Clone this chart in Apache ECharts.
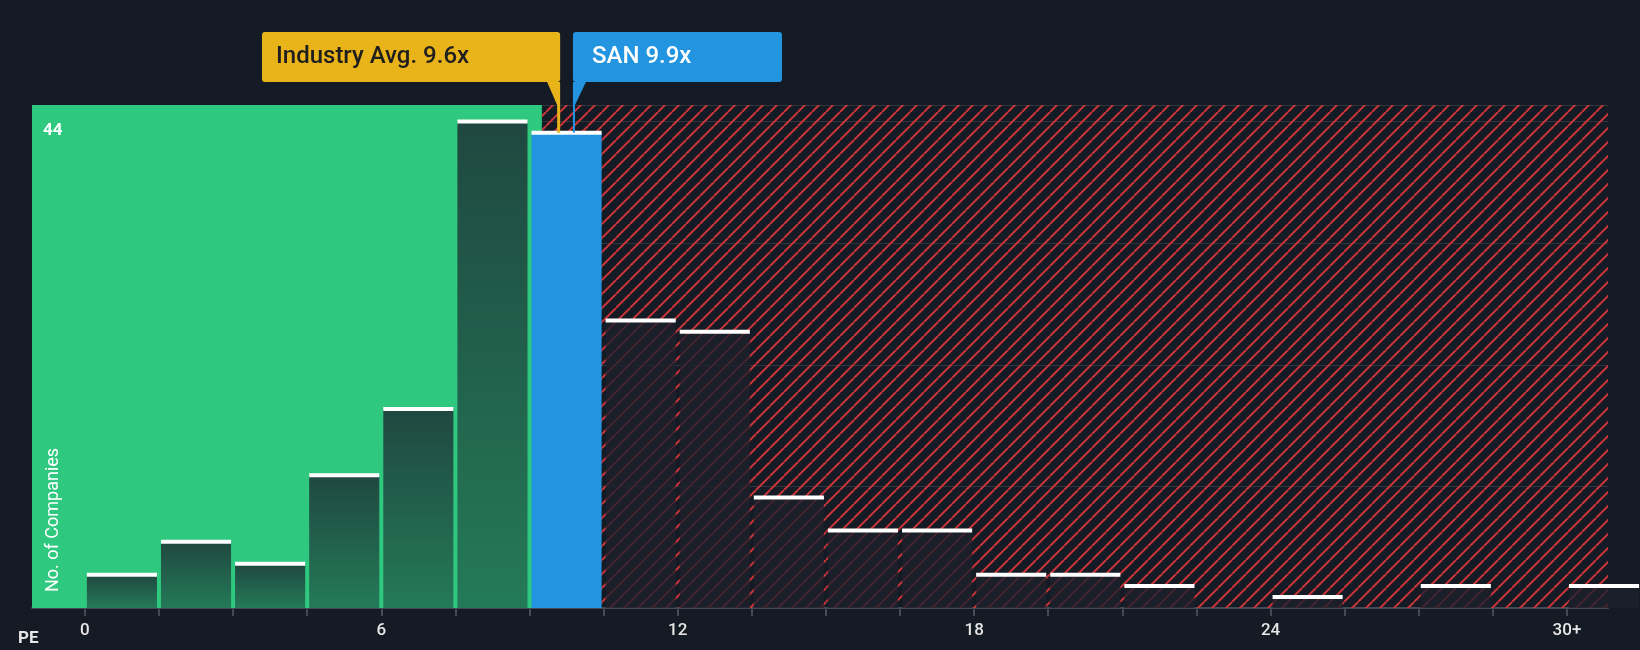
<!DOCTYPE html>
<html><head><meta charset="utf-8">
<script src="https://cdn.jsdelivr.net/npm/echarts@6/dist/echarts.min.js"></script>
<style>html,body{margin:0;background:#151b24}#c{width:1640px;height:650px}</style>
</head><body><div id="c"></div>
<script>
// histogram bins (PE ranges of 1.5) and company counts
const binStart = [0, 1.5, 3, 4.5, 6, 7.5, 9, 10.5, 12, 13.5, 15, 16.5, 18, 19.5, 21, 22.5, 24, 25.5, 27, 28.5, 30];
const counts   = [3, 6, 4, 12, 18, 44, 43, 26, 25, 10, 7, 7, 3, 3, 2, 0, 1, 0, 2, 0, 2];
const binWidth = 1.5;
const sanBin = 6;
const xTicks = [0, 6, 12, 18, 24, 30];
const industryAvg = 9.6, sanPE = 9.9, fairEnd = 9.25;
const xMin = -1.07, xMax = 30.83, yMax = 45.5;

const chart = echarts.init(document.getElementById('c'));

// red diagonal hatch
const pat = document.createElement('canvas');
pat.width = 14; pat.height = 14;
const pc = pat.getContext('2d');
pc.strokeStyle = '#c7343a'; pc.lineWidth = 2;
for (const o of [-14, 0, 14]) { pc.beginPath(); pc.moveTo(o, 14); pc.lineTo(o + 14, 0); pc.stroke(); }

const data = binStart.map((s, i) => [s, s + binWidth, counts[i], i]);

chart.setOption({
  backgroundColor: '#151b24',
  animation: false,
  grid: {left: 32, right: 32, top: 105, bottom: 42},
  xAxis: {
    type: 'value', min: xMin, max: xMax,
    splitLine: {show: false},
    axisLine: {lineStyle: {color: '#444a55', width: 2}},
    axisTick: {show: true, length: 8, lineStyle: {color: '#444a55', width: 2},
      customValues: binStart.concat([31.5])},
    axisLabel: {customValues: xTicks, color: '#e6e6e6', fontSize: 17, fontWeight: 500, fontFamily: 'Roboto', margin: 14,
      formatter: v => v === 30 ? '30+' : String(v)}
  },
  yAxis: {
    type: 'value', min: 0, max: yMax, interval: 11,
    axisLabel: {show: false}, axisLine: {show: false}, axisTick: {show: false},
    splitLine: {lineStyle: {color: 'rgba(255,255,255,0.12)'}}
  },
  series: [{
    type: 'custom',
    data: data,
    encode: {x: [0, 1], y: 2},
    markArea: {
      silent: true,
      data: [
        [{xAxis: xMin, yAxis: 0, itemStyle: {color: '#2ec97f'}}, {xAxis: fairEnd, yAxis: yMax}],
        [{xAxis: fairEnd, yAxis: 0, itemStyle: {color: {image: pat, repeat: 'repeat'}}}, {xAxis: xMax, yAxis: yMax}]
      ]
    },
    renderItem: (params, api) => {
      const i = api.value(3);
      const v = api.value(2);
      if (v <= 0) return null;
      const p0 = api.coord([api.value(0), v]);
      const p1 = api.coord([api.value(1), 0]);
      const x = p0[0] + 2, w = p1[0] - p0[0] - 4, y = p0[1], h = p1[1] - p0[1];
      let fill;
      if (i === sanBin) fill = '#2394df';
      else if (api.value(0) < fairEnd) fill = new echarts.graphic.LinearGradient(0, 0, 0, 1,
        [{offset: 0, color: '#1f4840'}, {offset: 1, color: '#247a58'}]);
      else fill = 'rgba(28,32,44,0.78)';
      return {type: 'group', children: [
        {type: 'rect', shape: {x, y, width: w, height: h}, style: {fill}},
        {type: 'rect', shape: {x, y: y - 2, width: w, height: 4}, style: {fill: '#ffffff'}}
      ]};
    }
  }]
});

const px = v => chart.convertToPixel({gridIndex: 0}, v);
const topY = px([0, yMax])[1];
const avgX = px([industryAvg, 0])[0];
const sanX = px([sanPE, 0])[0];
const sanTop = px([0, counts[sanBin]])[1];
const boxTop = 32, boxBot = 82;

chart.setOption({graphic: [
  {type: 'text', z: 100, left: 43, top: 122, style: {text: '44', fill: '#fff', font: 'bold 17px Roboto'}},
  {type: 'text', z: 100, rotation: Math.PI / 2, x: 44, y: 592,
    style: {text: 'No. of Companies', fill: '#fff', font: '18px Roboto', verticalAlign: 'top'}},
  {type: 'text', z: 100, left: 18, top: 630, style: {text: 'PE', fill: '#e6e6e6', font: 'bold 17px Roboto'}},
  // industry average label
  {type: 'rect', z: 100, shape: {x: 262, y: boxTop, width: avgX + 1 - 262, height: boxBot - boxTop, r: 3}, style: {fill: '#e9b31a'}},
  {type: 'polygon', z: 100, shape: {points: [[avgX - 12, boxBot], [avgX + 1, boxBot], [avgX + 1, topY], [avgX - 2, topY]]}, style: {fill: '#e9b31a'}},
  {type: 'rect', z: 100, shape: {x: avgX - 2, y: topY, width: 3, height: sanTop - topY}, style: {fill: '#e9b31a'}},
  {type: 'text', z: 101, x: 276, y: (boxTop + boxBot) / 2, style: {text: 'Industry Avg. ' + industryAvg + 'x', fill: '#1e1e1e', font: '500 24px Roboto', verticalAlign: 'middle'}},
  // SAN label
  {type: 'rect', z: 100, shape: {x: sanX - 1, y: boxTop, width: 783 - sanX, height: boxBot - boxTop, r: 3}, style: {fill: '#2394df'}},
  {type: 'polygon', z: 100, shape: {points: [[sanX - 1, boxBot], [sanX + 12, boxBot], [sanX + 1, topY], [sanX - 1, topY]]}, style: {fill: '#2394df'}},
  {type: 'rect', z: 100, shape: {x: sanX - 1, y: topY, width: 2, height: sanTop - topY}, style: {fill: '#2394df'}},
  {type: 'text', z: 101, x: sanX + 18, y: (boxTop + boxBot) / 2, style: {text: 'SAN ' + sanPE + 'x', fill: '#fff', font: '500 24px Roboto', verticalAlign: 'middle'}}
]});
</script></body></html>
